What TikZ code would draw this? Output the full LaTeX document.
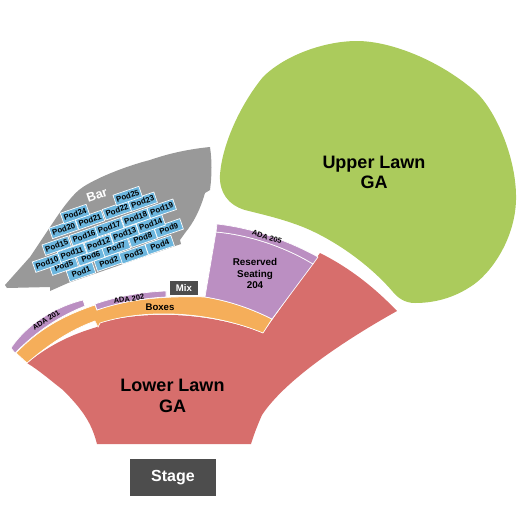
\documentclass[tikz,border=0pt]{standalone}
\usepackage{fontspec}
\setmainfont{Liberation Sans}
\definecolor{cgreen}{HTML}{ABCB5C}
\definecolor{cred}{HTML}{D76E6C}
\definecolor{corange}{HTML}{F5AE5A}
\definecolor{cpurple}{HTML}{BB8FC2}
\definecolor{cgray}{HTML}{999999}
\definecolor{cpod}{HTML}{6CB6DE}
\definecolor{cdark}{HTML}{4D4D4D}
\tikzset{
  podbox/.style={draw=white,line width=0.5pt,fill=cpod,minimum width=20.5pt,minimum height=8.3pt,inner sep=0pt,rotate=19,font=\fontsize{5.9pt}{6pt}\selectfont\bfseries,text=black},
  adalabel/.style={font=\fontsize{5.6pt}{6pt}\selectfont\bfseries,text=black,inner sep=0pt},
  biglabel/.style={font=\fontsize{13.5pt}{15.2pt}\selectfont\bfseries,text=black,align=center,inner sep=0pt},
  darkbox/.style={fill=cdark,text=white,inner sep=0pt},
  zone/.style={draw=white,line width=0.5pt,line join=miter}
}
\begin{document}
\begin{tikzpicture}[x=0.75pt,y=-0.75pt]
\useasboundingbox (0,0) rectangle (525,525);
% green
\fill[cgreen] (220,175) .. controls (222,145) and (240,105) .. (263,77)
 .. controls (285,55) and (325,41) .. (357,41)
 .. controls (390,41) and (440,60) .. (477,93)
 .. controls (497,113) and (517,160) .. (516,200)
 .. controls (515,240) and (490,275) .. (470,287)
 .. controls (450,300) and (430,303) .. (415,303)
 .. controls (405,303) and (398,298) .. (393,292)
 .. controls (370,265) and (335,240) .. (303,227)
 .. controls (280,218) and (260,214) .. (245,210)
 .. controls (228,205) and (219,192) .. (220,175) -- cycle;
% gray bar
\fill[cgray] (5,285) -- (7,288) -- (50,287) -- (50,291) -- (68,283) -- (181,244) -- (180,240) -- (185,233) .. controls (194,222) and (200,210) .. (205,193) -- (210,190) .. controls (212,175) and (212,160) .. (210,147) .. controls (190,149) and (170,153) .. (150,160) .. controls (130,165) and (100,176) .. (83,187) .. controls (72,194) and (60,212) .. (50,227) -- (30,257) -- cycle;
% red
\fill[cred] (27,363) .. controls (50,345) and (70,335) .. (97,327) -- (98,323) .. controls (145,310) and (210,312) .. (263,333) -- (320,253) .. controls (350,268) and (375,288) .. (397,311) .. controls (345,340) and (285,380) .. (262,415) .. controls (258,424) and (254,434) .. (251,444) -- (97,444) .. controls (92,425) and (85,412) .. (63,390) .. controls (50,380) and (40,371) .. (27,363) -- cycle;
% orange
\fill[corange,zone] (16,353) .. controls (38,330) and (62,316) .. (95,305) -- (97,310) .. controls (130,298) and (170,296) .. (205,297) .. controls (230,301) and (252,309) .. (272,319) -- (263,333) .. controls (215,313) and (150,307) .. (100,323) -- (98,327) -- (95,321) .. controls (70,330) and (48,345) .. (27,363) -- cycle;
% purple
\fill[cpurple,zone] (205,297) -- (216,232) .. controls (250,235) and (285,247) .. (313,264) -- (272,319) .. controls (252,309) and (230,301) .. (205,297) -- cycle;
\fill[cpurple,zone] (217,224) -- (216,232) .. controls (250,235) and (285,247) .. (313,264) -- (318,257) .. controls (287,240) and (252,228) .. (217,224) -- cycle;
\fill[cpurple,zone] (11,348) -- (15,353) .. controls (38,330) and (60,316) .. (85,306) -- (83,300) .. controls (55,307) and (27,324) .. (11,348) -- cycle;
\fill[cpurple,zone] (95,304) -- (97,310) .. controls (120,302) and (145,298) .. (166,297) -- (166,291) .. controls (140,292) and (115,297) .. (95,304) -- cycle;
% pods
\foreach \n/\x/\y in {1/81/272,2/108.7/261.7,3/133.7/254.3,4/159.7/245,5/63.7/265.7,6/90.7/256.3,7/116/247.3,8/142.7/237.7,9/168.7/228.3,10/47/262.7,11/72/252.7,12/98.7/243.7,13/124.7/233.7,14/150.7/224.3,15/56.7/245.7,16/84/236.3,17/109.3/227.3,18/135.7/217.7,19/161.7/208.7,20/63.7/229,21/90/220,22/117/210.3,23/142.7/201.7,24/75/214,25/127.7/196}
  \node[podbox] (pod\n) at (\x,\y) {Pod\n};
\node[font=\fontsize{9.5pt}{10pt}\selectfont\bfseries,text=white,rotate=19,inner sep=0pt] (bar) at (97,195) {Bar};
\node[adalabel,rotate=33] (ada201) at (46,320) {ADA 201};
\node[adalabel,rotate=8] (ada202) at (129,299) {ADA 202};
\node[adalabel,rotate=-18] (ada205) at (267,237) {ADA 205};
\node[font=\fontsize{7.2pt}{7.5pt}\selectfont\bfseries,inner sep=0pt] (boxes) at (160,307) {Boxes};
\node[font=\fontsize{7.4pt}{8.6pt}\selectfont\bfseries,align=center,inner sep=0pt] (res) at (255,273.5) {Reserved\\Seating\\204};
\node[biglabel] (upper) at (374,172.5) {Upper Lawn\\GA};
\node[biglabel] (lower) at (172.5,396) {Lower Lawn\\GA};
\node[darkbox,minimum width=21pt,minimum height=10.5pt,font=\fontsize{7.2pt}{7.5pt}\selectfont\bfseries] (mix) at (184,288) {Mix};
\node[darkbox,minimum width=64.5pt,minimum height=27.7pt,font=\fontsize{12pt}{12.5pt}\selectfont\bfseries] (stage) at (173,477.5) {Stage};
\end{tikzpicture}
\end{document}
